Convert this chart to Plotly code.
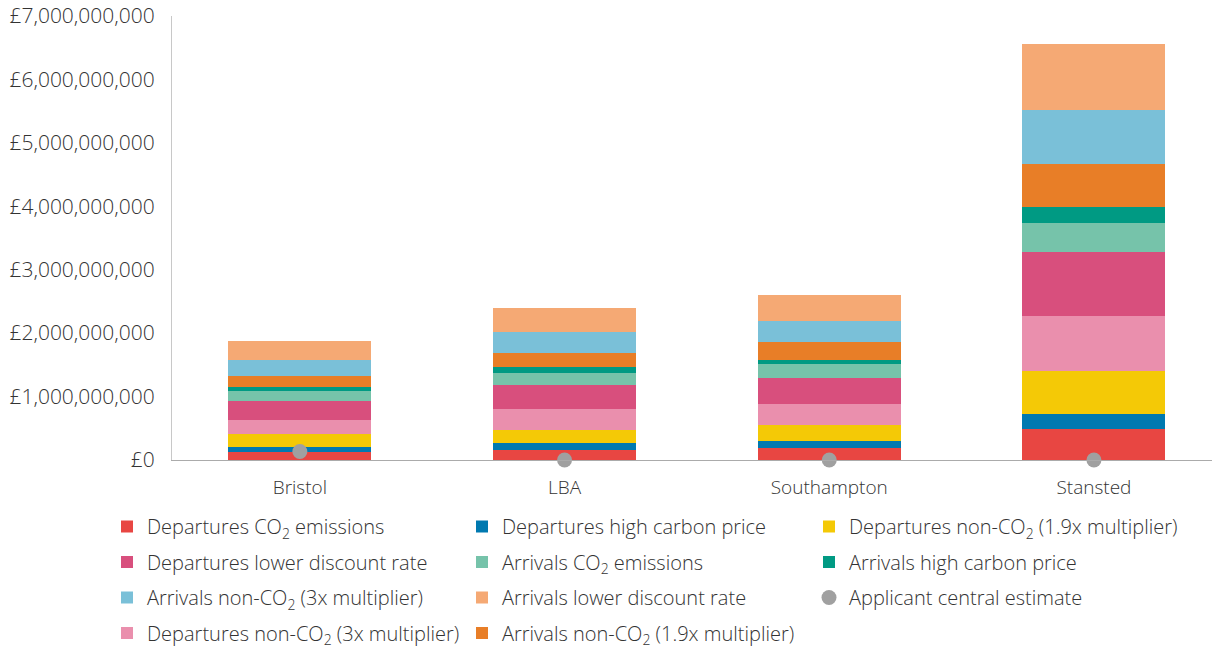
import plotly.graph_objects as go

airports = ["Bristol", "LBA", "Southampton", "Stansted"]

# values in £ billions
dep_co2 = [0.131, 0.163, 0.194, 0.490]
dep_high_carbon = [0.070, 0.110, 0.111, 0.241]
dep_nonco2_19 = [0.210, 0.206, 0.248, 0.675]
dep_nonco2_3 = [0.221, 0.327, 0.327, 0.858]
dep_lower_disc = [0.305, 0.379, 0.415, 1.022]
arr_co2 = [0.153, 0.189, 0.222, 0.458]
arr_high_carbon = [0.068, 0.100, 0.063, 0.248]
arr_nonco2_19 = [0.174, 0.212, 0.284, 0.673]
arr_nonco2_3 = [0.248, 0.325, 0.321, 0.853]
arr_lower_disc = [0.289, 0.386, 0.422, 1.038]
applicant_central = [0.135, 0.0, 0.0, 0.0]

tick_billions = [0, 1, 2, 3, 4, 5, 6, 7]
tick_labels = ["£0", "£1,000,000,000", "£2,000,000,000", "£3,000,000,000",
               "£4,000,000,000", "£5,000,000,000", "£6,000,000,000", "£7,000,000,000"]

B = 1e9

series = [
    ("Departures CO<sub>2</sub> emissions", dep_co2, "#E84642", "legend", 1),
    ("Departures high carbon price", dep_high_carbon, "#0079B0", "legend2", 1),
    ("Departures non-CO<sub>2</sub> (1.9x multiplier)", dep_nonco2_19, "#F4C906", "legend3", 1),
    ("Departures non-CO<sub>2</sub> (3x multiplier)", dep_nonco2_3, "#EA8FAD", "legend", 4),
    ("Departures lower discount rate", dep_lower_disc, "#D84F7D", "legend", 2),
    ("Arrivals CO<sub>2</sub> emissions", arr_co2, "#76C3AA", "legend2", 2),
    ("Arrivals high carbon price", arr_high_carbon, "#009A83", "legend3", 2),
    ("Arrivals non-CO<sub>2</sub> (1.9x multiplier)", arr_nonco2_19, "#E87E27", "legend2", 4),
    ("Arrivals non-CO<sub>2</sub> (3x multiplier)", arr_nonco2_3, "#7AC0D8", "legend", 3),
    ("Arrivals lower discount rate", arr_lower_disc, "#F5A974", "legend2", 3),
]

fig = go.Figure()
for i, (name, vals, color, leg, rank) in enumerate(series):
    fig.add_trace(go.Bar(
        x=airports, y=[v * B for v in vals], name=name,
        marker=dict(color=color, line=dict(width=0)),
        width=0.54, legend=leg, legendrank=rank, legendgroup=f"g{i}",
    ))

fig.add_trace(go.Scatter(
    x=airports, y=[v * B for v in applicant_central], mode="markers",
    name="Applicant central estimate",
    marker=dict(color="#A0A0A0", size=15),
    cliponaxis=False, legend="legend3", legendrank=3, legendgroup="gdot",
))

font_family = "Open Sans"
txt = "#333333"
legend_common = dict(
    orientation="v", traceorder="grouped", tracegroupgap=6.5,
    font=dict(family=font_family, size=20, color=txt, weight=300),
    xref="container", yref="container", xanchor="left", yanchor="top",
    bgcolor="rgba(0,0,0,0)", itemclick=False, itemdoubleclick=False,
)

ly = (648 - 507) / 648
fig.update_layout(
    width=1212, height=648,
    margin=dict(l=172, r=0, t=16, b=188, autoexpand=False),
    paper_bgcolor="white", plot_bgcolor="white",
    barmode="stack",
    font=dict(family=font_family, size=20, color=txt, weight=300),
    showlegend=True,
    legend=dict(**legend_common, x=107 / 1212, y=ly),
    legend2=dict(**legend_common, x=462 / 1212, y=ly),
    legend3=dict(**legend_common, x=809 / 1212, y=ly),
    xaxis=dict(
        type="category", range=[-0.483, 3.446], automargin=False,
        showline=True, linecolor="#ABABAB", linewidth=1,
        ticks="outside", ticklen=10, tickcolor="rgba(0,0,0,0)",
        showgrid=False, zeroline=False,
        tickfont=dict(family=font_family, size=19, color=txt, weight=300),
    ),
    yaxis=dict(
        range=[0, 7e9], tickvals=[v * B for v in tick_billions], ticktext=tick_labels,
        automargin=False,
        showline=True, linecolor="#C8C8C8", linewidth=1,
        ticks="outside", ticklen=12, tickcolor="rgba(0,0,0,0)",
        showgrid=False, zeroline=False,
        tickfont=dict(family=font_family, size=21, color=txt, weight=300),
    ),
)

fig.write_html("out.html")
